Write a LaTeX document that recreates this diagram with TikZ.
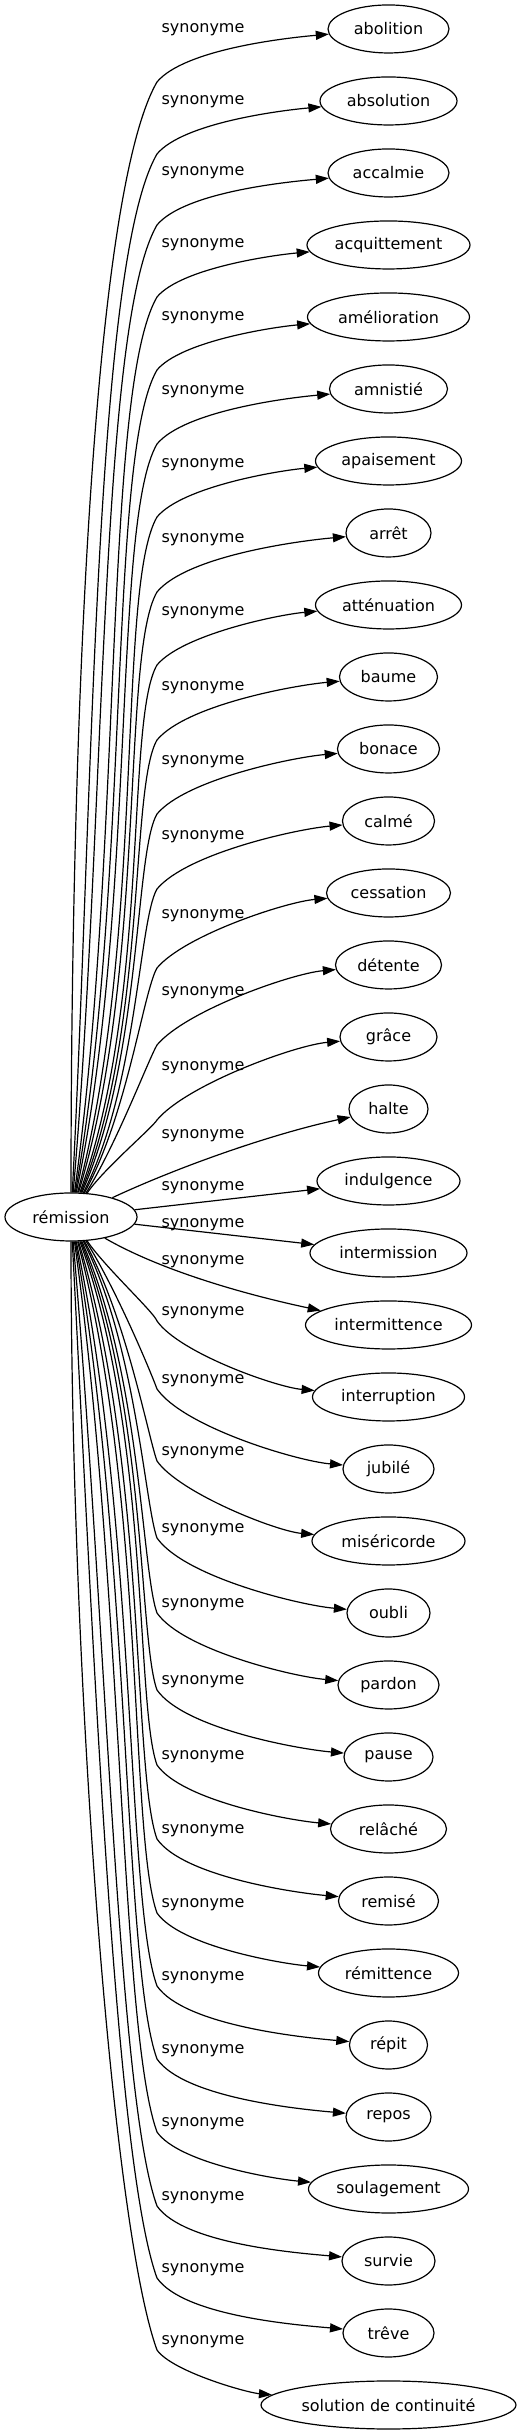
\documentclass[tikz,border=0pt]{standalone}
\usepackage{fontspec}
\setmainfont{DejaVu Sans}
\usepackage{tikz}
\usetikzlibrary{shapes,positioning,arrows.meta}

\begin{document}
\begin{tikzpicture}[x=1pt, y=1pt,
  word/.style={ellipse, draw, line width=1.2pt, inner sep=0pt, minimum height=48pt, font=\fontsize{16}{19}\selectfont},
  lbl/.style={inner sep=0pt, font=\fontsize{16}{19}\selectfont},
  syn/.style={line width=1.2pt, -{Triangle[length=13pt, width=9pt]}}]

\useasboundingbox (0,0) rectangle (521,2435);

\node[word, minimum width=132pt] (rem) at (71,1218) {rémission};

% words, labels and edges
\foreach \i/\word/\wid/\ly in {0/abolition/121/30, 1/absolution/137/102, 2/accalmie/121/173,
    3/acquittement/163/245, 4/amélioration/162/318, 5/amnistié/118/392, 6/apaisement/146/465,
    7/arrêt/85/540, 8/atténuation/146/613, 9/baume/98/688, 10/bonace/102/762, 11/calmé/92/837,
    12/cessation/124/916, 13/détente/106/993, 14/grâce/97/1068, 15/halte/79/1136,
    16/indulgence/143/1188, 17/intermission/157/1225, 18/intermittence/166/1262,
    19/interruption/152/1313, 20/jubilé/91/1381, 21/miséricorde/153/1453, 22/oubli/83/1530,
    23/pardon/101/1605, 24/pause/89/1682, 25/relâché/116/1757, 26/remisé/100/1831,
    27/rémittence/140/1905, 28/répit/78/1978, 29/repos/85/2051, 30/soulagement/160/2124,
    31/survie/93/2198, 32/trêve/91/2270, 33/solution de continuité/255/2342}{
  \node[word, minimum width=\wid pt] (w\i) at (388.5,{2406-72*\i}) {\word};
  \node[lbl] (lab\i) at (203,{2435-\ly}) {synonyme};
  \pgfmathsetmacro\hl{0.25*(231.5-\wid/2)}
  % upper edges bend under their label
  \ifnum\i<15
    \pgfmathsetmacro\ky{2383-\ly}
    \pgfmathtruncatemacro\ang{90-2.4*\i}
    \pgfmathsetmacro\la{0.39*(\ky-1242)}
    \pgfmathsetmacro\lb{0.12*(\ky-1242)}
    \coordinate (k\i) at (157,\ky);
    \draw[syn] (rem.\ang) .. controls +(\ang:\la) and +(-120:\lb) .. (k\i)
      .. controls +(50:\hl) and +(185:\hl) .. (w\i.185);
  \fi
  % lower edges bend beside their label
  \ifnum\i>18
    \pgfmathsetmacro\ky{2427-\ly}
    \pgfmathtruncatemacro\ang{-90+2.4*(33-\i)}
    \pgfmathsetmacro\la{0.39*(1194-\ky)}
    \pgfmathsetmacro\lb{0.12*(1194-\ky)}
    \coordinate (k\i) at (157,\ky);
    \draw[syn] (rem.\ang) .. controls +(\ang:\la) and +(110:\lb) .. (k\i)
      .. controls +(-55:\hl) and +(175:\hl) .. (w\i.175);
  \fi
}

% middle edges
\draw[syn] (rem.25) .. controls +(25:77) and +(192:77) .. (w15.192);
\draw[syn] (rem) -- (w16);
\draw[syn] (rem) -- (w17);
\draw[syn] (rem.-32) .. controls +(-30:69) and +(168:69) .. (w18.168);

\end{tikzpicture}
\end{document}
